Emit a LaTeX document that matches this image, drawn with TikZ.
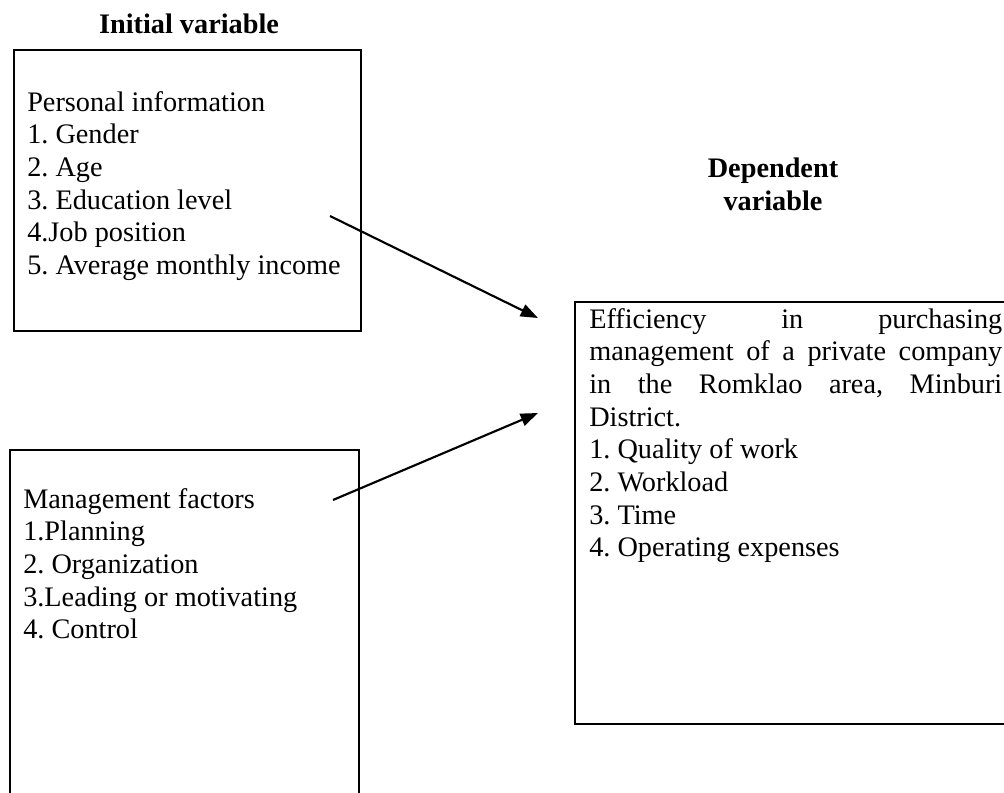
\documentclass[tikz,border=0pt]{standalone}
\usepackage{fontspec}
\setmainfont{Liberation Serif}
\usetikzlibrary{arrows.meta}
\frenchspacing
\tikzset{
	varbox/.style={draw, line width=1.6pt, inner sep=0pt, anchor=north west},
	vartext/.style={font=\fontsize{21.2pt}{24.5pt}\selectfont, align=left, inner sep=0pt, anchor=north west},
	vartitle/.style={font=\fontsize{21.2pt}{24.5pt}\selectfont\bfseries, align=center, inner sep=0pt},
	link/.style={line width=1.6pt, -{Triangle[length=13pt,width=9.5pt]}}
}
\newcommand{\justline}[1]{\makebox[309.75pt][s]{#1}}
\begin{document}
\begin{tikzpicture}[x=0.75pt,y=-0.75pt]
	\clip (0,0) rectangle (1004,793);
	\path
		(330,216) coordinate (PersStart)
		(538,318) coordinate (PersTip)
		(333,500) coordinate (MgmtStart)
		(538,413) coordinate (MgmtTip)
	;
	% Titles
	\node[vartitle, anchor=base] (InitTitle) at (189,33) {Initial variable};
	\node[vartitle, anchor=north] (DepTitle) at (773,158) {Dependent\\variable};
	% Boxes
	\node[varbox, minimum width=260.25pt, minimum height=210.75pt] (PersBox) at (13,49) {};
	\node[varbox, minimum width=261.75pt, minimum height=270.75pt] (MgmtBox) at (9,449) {};
	\node[varbox, minimum width=328.5pt, minimum height=316.5pt] (DepBox) at (574,301) {};
	% Box texts
	\node[vartext] (PersText) at (27,91) {Personal information\\1. Gender\\2. Age\\3. Education level\\4.Job position\\5. Average monthly income};
	\node[vartext] (MgmtText) at (23,488) {Management factors\\1.Planning\\2. Organization\\3.Leading or motivating\\4. Control};
	\node[vartext] (DepText) at (589,308) {\justline{Efficiency in purchasing}\\
		\justline{management of a private company}\\
		\justline{in the Romklao area, Minburi}\\
		District.\\1. Quality of work\\2. Workload\\3. Time\\4. Operating expenses};
	% Arrows
	\draw[link] (PersStart) -- (PersTip);
	\draw[link] (MgmtStart) -- (MgmtTip);
\end{tikzpicture}
\end{document}
